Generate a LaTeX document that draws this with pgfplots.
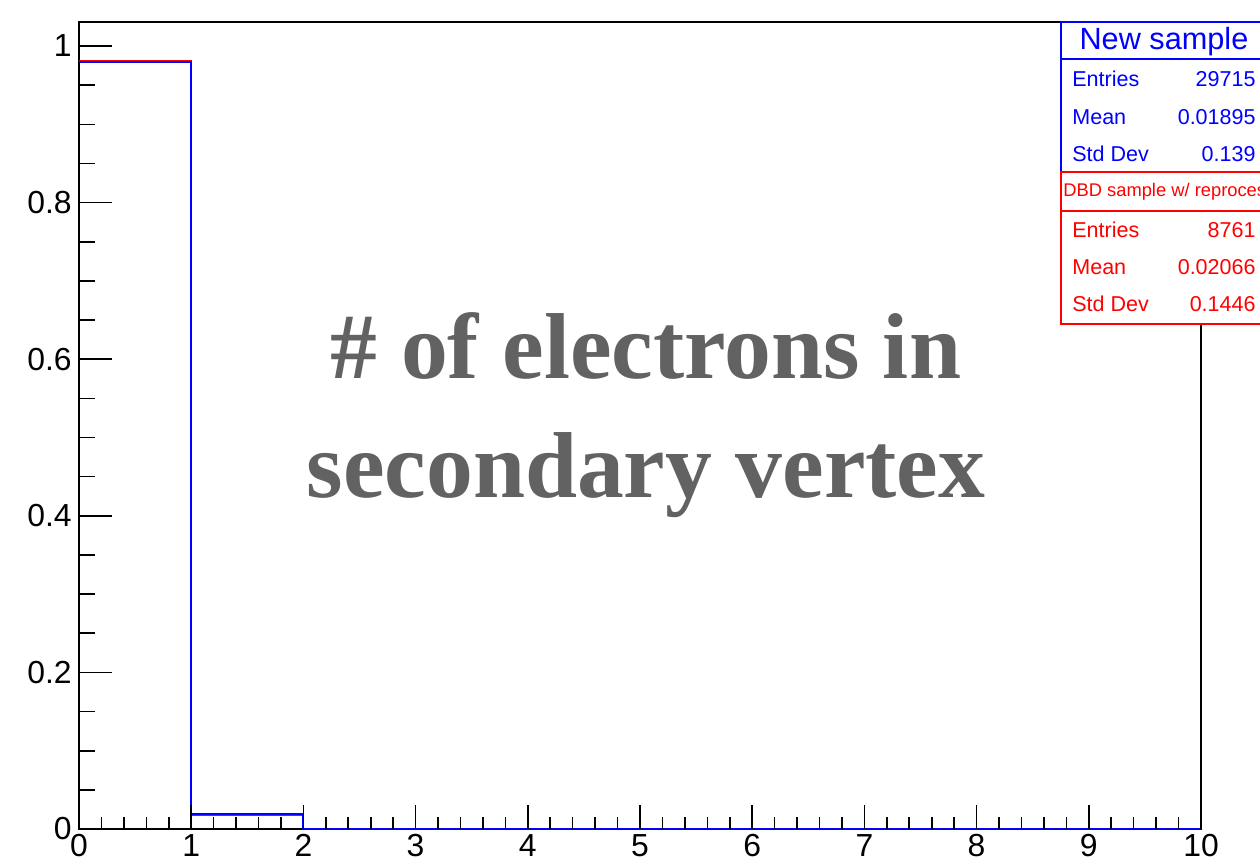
\documentclass[border=0pt]{standalone}
\usepackage{pgfplots}
\pgfplotsset{compat=1.18}
\usepackage{fontspec}
\setmainfont{Liberation Sans}
\newfontfamily\titlefont{Liberation Serif}
\definecolor{titlegray}{RGB}{98,98,98}
\begin{document}
\begin{tikzpicture}
\useasboundingbox (0,0) rectangle (630bp,431bp);
% y ticks + histograms
\begin{axis}[at={(39.5bp,16.5bp)}, anchor=south west, scale only axis,
  width=561bp, height=403.5bp, xmin=0, xmax=10, ymin=0, ymax=1.0307,
  clip=false,
  xtick=\empty,
  ytick={0,0.2,0.4,0.6,0.8,1}, yticklabels={0,0.2,0.4,0.6,0.8,1},
  minor y tick num=3, ytick pos=left,
  major tick length=16.5bp, minor tick length=8bp,
  tick style={black, line width=0.8bp},
  axis line style={line width=0.9bp},
  /pgf/number format/assume math mode=true,
  yticklabel style={font=\fontsize{16}{18}\selectfont, inner sep=0pt, anchor=east, xshift=-3.5bp},
]
\addplot[const plot, red, line width=1bp] coordinates {(0,0.9812) (1,0.0180) (2,0) (10,0)};
\addplot[const plot, blue, line width=1bp] coordinates {(0,0.9800) (1,0.0197) (2,0) (10,0)};
\end{axis}
% x ticks
\begin{axis}[at={(39.5bp,16.5bp)}, anchor=south west, scale only axis,
  width=561bp, height=403.5bp, xmin=0, xmax=10, ymin=0, ymax=1.0307,
  ytick=\empty,
  xtick={0,1,2,3,4,5,6,7,8,9,10}, xticklabels={0,1,2,3,4,5,6,7,8,9,10},
  minor x tick num=4, xtick pos=left,
  major tick length=12bp, minor tick length=6bp,
  tick style={black, line width=0.8bp},
  axis line style={draw=none},
  /pgf/number format/assume math mode=true,
  xticklabel style={font=\fontsize{16}{18}\selectfont, inner sep=0pt, anchor=north, yshift=-2.5bp},
]
\addplot[draw=none] coordinates {(0,0) (10,0)};
\end{axis}
% annotations in pixel coordinates
\begin{scope}[x=0.5bp, y=-0.5bp, shift={(0,431bp)}]
  \node[anchor=base, text=titlegray, font=\titlefont\bfseries\fontsize{47}{50}\selectfont] at (646,379) {\# of electrons in};
  \node[anchor=base, text=titlegray, font=\titlefont\bfseries\fontsize{47}{50}\selectfont] at (646,498) {secondary vertex};
  % blue stat box
  \fill[white] (1061,22) rectangle (1275,324);
  \draw[blue, line width=1bp] (1061,22) rectangle (1275,172);
  \draw[blue, line width=1bp] (1061,59) -- (1275,59);
  \node[anchor=base, text=blue, font=\fontsize{15.4}{17}\selectfont] at (1164,50) {New sample};
  \begin{scope}[every node/.style={font=\fontsize{10.8}{12}\selectfont, inner sep=0pt}]
    \node[anchor=base west, text=blue] at (1072,87) {Entries};
    \node[anchor=base east, text=blue] at (1256,87) {29715};
    \node[anchor=base west, text=blue] at (1072,125) {Mean};
    \node[anchor=base east, text=blue] at (1256,125) {0.01895};
    \node[anchor=base west, text=blue] at (1072,162) {Std Dev};
    \node[anchor=base east, text=blue] at (1256,162) {0.139};
  \end{scope}
  % red stat box
  \draw[red, line width=1bp] (1061,172) rectangle (1275,324);
  \draw[red, line width=1bp] (1061,211) -- (1275,211);
  \node[anchor=base west, text=red, inner sep=0pt, font=\fontsize{9.2}{10}\selectfont] at (1063,197) {DBD sample w/ reprocessing};
  \begin{scope}[every node/.style={font=\fontsize{10.8}{12}\selectfont, inner sep=0pt}]
    \node[anchor=base west, text=red] at (1072,238) {Entries};
    \node[anchor=base east, text=red] at (1256,238) {8761};
    \node[anchor=base west, text=red] at (1072,275) {Mean};
    \node[anchor=base east, text=red] at (1256,275) {0.02066};
    \node[anchor=base west, text=red] at (1072,312) {Std Dev};
    \node[anchor=base east, text=red] at (1256,312) {0.1446};
  \end{scope}
\end{scope}
\end{tikzpicture}
\end{document}
